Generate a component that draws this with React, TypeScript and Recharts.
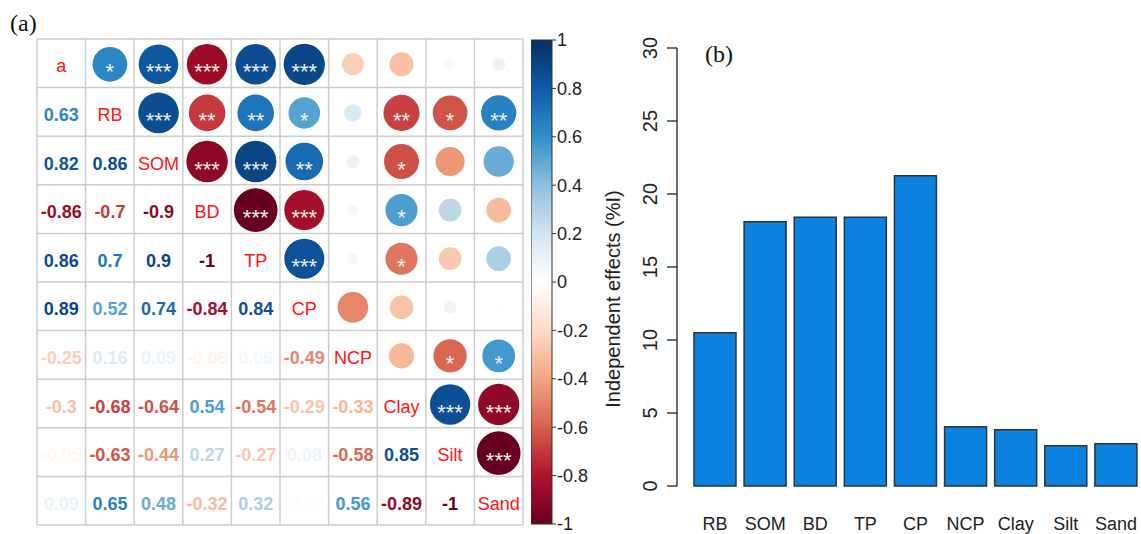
import React from "react";
import {
  ScatterChart,
  Scatter,
  XAxis,
  YAxis,
  ReferenceLine,
  BarChart,
  Bar,
  Label,
} from "recharts";

const FONT = "'Liberation Sans', Arial, Helvetica, sans-serif";
const SERIF = "'Liberation Serif', 'Times New Roman', serif";

// variables on the diagonal of the matrix
const variables = ["a", "RB", "SOM", "BD", "TP", "CP", "NCP", "Clay", "Silt", "Sand"];

// lower triangle: row i holds r(i, 0..i-1)
const corrRows: number[][] = [
  [],
  [0.63],
  [0.82, 0.86],
  [-0.86, -0.7, -0.9],
  [0.86, 0.7, 0.9, -1],
  [0.89, 0.52, 0.74, -0.84, 0.84],
  [-0.25, 0.16, 0.09, -0.06, 0.06, -0.49],
  [-0.3, -0.68, -0.64, 0.54, -0.54, -0.29, -0.33],
  [-0.05, -0.63, -0.44, 0.27, -0.27, 0.08, -0.58, 0.85],
  [0.09, 0.65, 0.48, -0.32, 0.32, -0.02, 0.56, -0.89, -1],
];

// number of significance stars, same layout as corrRows
const sigRows: number[][] = [
  [],
  [1],
  [3, 3],
  [3, 2, 3],
  [3, 2, 3, 3],
  [3, 1, 2, 3, 3],
  [0, 0, 0, 0, 0, 0],
  [0, 2, 1, 1, 1, 0, 0],
  [0, 1, 0, 0, 0, 0, 1, 3],
  [0, 2, 0, 0, 0, 0, 1, 3, 3],
];

const gridBounds = [0.5, 1.5, 2.5, 3.5, 4.5, 5.5, 6.5, 7.5, 8.5, 9.5, 10.5];

// colour scale
const colorStops = [-1, -0.8, -0.6, -0.4, -0.2, 0, 0.2, 0.4, 0.6, 0.8, 1];
const colorHex = [
  "#67001f", "#b2112b", "#d6604d", "#f4a582", "#fddbc7", "#ffffff",
  "#d1e5f0", "#8fc0df", "#2f8fca", "#0e5aa7", "#052f61",
];
const colorbarTicks = [1, 0.8, 0.6, 0.4, 0.2, 0, -0.2, -0.4, -0.6, -0.8, -1];
const colorbarRange = [-1, 1];

// panel (b)
const barCategories = ["RB", "SOM", "BD", "TP", "CP", "NCP", "Clay", "Silt", "Sand"];
const independentEffects = [10.5, 18.1, 18.4, 18.4, 21.25, 4.05, 3.85, 2.75, 2.9];
const effectTicks = [0, 5, 10, 15, 20, 25, 30];

const CELL = 48.6;

const hexToRgb = (h: string) => [
  parseInt(h.slice(1, 3), 16),
  parseInt(h.slice(3, 5), 16),
  parseInt(h.slice(5, 7), 16),
];

function corrColor(v: number) {
  let k = 0;
  while (k < colorStops.length - 2 && v > colorStops[k + 1]) k++;
  const t = (v - colorStops[k]) / (colorStops[k + 1] - colorStops[k]);
  const a = hexToRgb(colorHex[k]);
  const b = hexToRgb(colorHex[k + 1]);
  const c = a.map((x, i) => Math.round(x + (b[i] - x) * t));
  return `rgb(${c[0]},${c[1]},${c[2]})`;
}

const cells: any[] = [];
variables.forEach((name, i) => {
  variables.forEach((_, j) => {
    if (i === j) {
      cells.push({ x: j + 1, y: i + 1, kind: "diag", label: name });
    } else if (i > j) {
      cells.push({ x: j + 1, y: i + 1, kind: "num", r: corrRows[i][j] });
    } else {
      cells.push({
        x: j + 1,
        y: i + 1,
        kind: "circle",
        r: corrRows[j][i],
        stars: sigRows[j][i],
      });
    }
  });
});

const barData = barCategories.map((name, i) => ({
  name,
  value: independentEffects[i],
}));

const colorbarData = [{ name: "r", range: colorbarRange }];

function CellMark(props: any) {
  const { cx, cy, payload } = props;
  if (payload.kind === "diag") {
    return (
      <text x={cx} y={cy + 3} textAnchor="middle" dominantBaseline="central"
        fill="#ff1414" fontSize={18} fontFamily={FONT}>
        {payload.label}
      </text>
    );
  }
  if (payload.kind === "num") {
    return (
      <text x={cx} y={cy + 3} textAnchor="middle" dominantBaseline="central"
        fill={corrColor(payload.r)} fontSize={18} fontWeight="bold" fontFamily={FONT}>
        {String(payload.r)}
      </text>
    );
  }
  const rad = 0.45 * Math.sqrt(Math.abs(payload.r)) * CELL;
  return (
    <g>
      <circle cx={cx} cy={cy + 1} r={rad} fill={corrColor(payload.r)} />
      {payload.stars > 0 && (
        <text x={cx} y={cy + 16} textAnchor="middle" fill="#eeeeee"
          fontSize={22} fontFamily={FONT}>
          {"*".repeat(payload.stars)}
        </text>
      )}
    </g>
  );
}

const RotTick = (p: any) => (
  <text x={p.x} y={p.y} transform={`rotate(-90 ${p.x} ${p.y})`} textAnchor="middle"
    fontSize={20} fill="#222" fontFamily={FONT}>
    {p.payload.value}
  </text>
);

const YTitle = (p: any) => {
  const vb = p.viewBox;
  const x = vb.x + 60;
  const y = vb.y + vb.height / 2 + 32;
  return (
    <text x={x} y={y} transform={`rotate(-90 ${x} ${y})`} textAnchor="middle"
      fontSize={20} fill="#222" fontFamily={FONT}>
      Independent effects (%I)
    </text>
  );
};

export default function App() {
  return (
    <div style={{ position: "absolute", left: 0, top: 0, width: 1141, height: 534, background: "#fff", fontFamily: FONT }}>
      <div style={{ position: "absolute", left: 10, top: 10, fontFamily: SERIF, fontSize: 24, color: "#111" }}>(a)</div>
      <div style={{ position: "absolute", left: 705, top: 41, fontFamily: SERIF, fontSize: 24, color: "#111" }}>(b)</div>

      {/* correlation matrix */}
      <div style={{ position: "absolute", left: 35, top: 37 }}>
        <ScatterChart width={490} height={490} margin={{ top: 2, right: 2, bottom: 2, left: 2 }}>
          <XAxis type="number" dataKey="x" domain={[0.5, 10.5]} hide />
          <YAxis type="number" dataKey="y" domain={[0.5, 10.5]} reversed hide />
          {gridBounds.map((b) => (
            <ReferenceLine key={"v" + b} x={b} stroke="#cccccc" strokeWidth={1.5} ifOverflow="visible" />
          ))}
          {gridBounds.map((b) => (
            <ReferenceLine key={"h" + b} y={b} stroke="#cccccc" strokeWidth={1.5} ifOverflow="visible" />
          ))}
          <Scatter data={cells} isAnimationActive={false} shape={(p: any) => <CellMark {...p} />} />
        </ScatterChart>
      </div>

      {/* colour bar */}
      <div style={{ position: "absolute", left: 531, top: 30 }}>
        <BarChart width={80} height={504} data={colorbarData} barCategoryGap={0}
          margin={{ top: 10, right: 0, bottom: 10, left: 0 }}>
          <defs>
            <linearGradient id="corrGrad" x1="0" y1="1" x2="0" y2="0">
              {colorStops.map((s, i) => (
                <stop key={s} offset={(s + 1) / 2} stopColor={colorHex[i]} />
              ))}
            </linearGradient>
          </defs>
          <XAxis dataKey="name" hide />
          <YAxis type="number" orientation="right" domain={[-1, 1]} ticks={colorbarTicks}
            interval={0} width={59} axisLine={false} tickSize={4} tickMargin={1}
            tickLine={{ stroke: "#333" }}
            tickFormatter={(v: number) => String(Math.round(v * 10) / 10)}
            tick={{ fontSize: 18, fill: "#222", fontFamily: FONT }} />
          <Bar dataKey="range" fill="url(#corrGrad)" stroke="#333" strokeWidth={1}
            isAnimationActive={false} />
        </BarChart>
      </div>

      {/* panel (b) */}
      <div style={{ position: "absolute", left: 560, top: 0 }}>
        <BarChart width={581} height={534} data={barData}
          margin={{ top: 48, right: 0, bottom: 0, left: 0 }}>
          <XAxis dataKey="name" axisLine={false} tickLine={false} tickSize={0} tickMargin={31}
            interval={0} padding={{ left: 13, right: 0 }} height={48}
            tick={{ fontSize: 18, fill: "#222", fontFamily: FONT }} />
          <YAxis type="number" domain={[0, 30]} ticks={effectTicks} width={117}
            tickSize={10} tickMargin={10} tick={RotTick}
            axisLine={{ stroke: "#222", strokeWidth: 1.3 }} tickLine={{ stroke: "#222", strokeWidth: 1.3 }}>
            <Label content={YTitle} />
          </YAxis>
          <Bar dataKey="value" fill="#0a82df" stroke="#333" strokeWidth={1.5} barSize={42}
            isAnimationActive={false} />
        </BarChart>
      </div>
    </div>
  );
}
